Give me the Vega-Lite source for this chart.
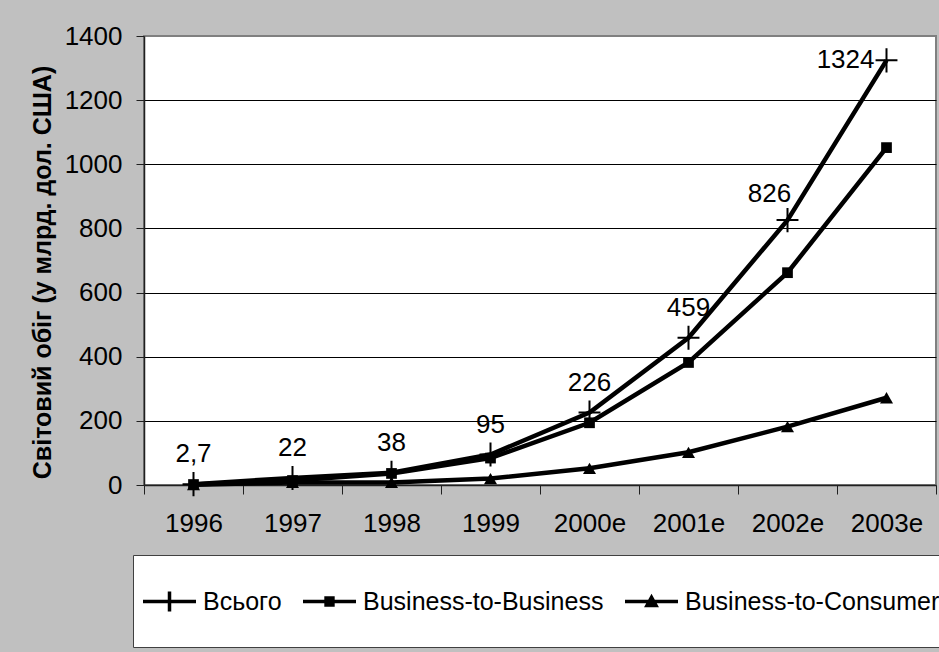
{
  "$schema": "https://vega.github.io/schema/vega-lite/v6.json",
  "width": 792,
  "height": 449,
  "autosize": "none",
  "padding": {"left": 144, "top": 36, "right": 3, "bottom": 167},
  "background": "#c0c0c0",
  "config": {
    "font": "Liberation Sans",
    "view": {"fill": "white", "stroke": "#808080", "strokeWidth": 2}
  },
  "data": {
    "values": [
      {"year": "1996", "series": "Всього", "value": 2.7, "label": "2,7"},
      {"year": "1997", "series": "Всього", "value": 22, "label": "22"},
      {"year": "1998", "series": "Всього", "value": 38, "label": "38"},
      {"year": "1999", "series": "Всього", "value": 95, "label": "95"},
      {"year": "2000e", "series": "Всього", "value": 226, "label": "226"},
      {"year": "2001e", "series": "Всього", "value": 459, "label": "459"},
      {"year": "2002e", "series": "Всього", "value": 826, "label": "826"},
      {"year": "2003e", "series": "Всього", "value": 1324, "label": "1324"},
      {"year": "1996", "series": "Business-to-Business", "value": 1.5, "label": ""},
      {"year": "1997", "series": "Business-to-Business", "value": 14, "label": ""},
      {"year": "1998", "series": "Business-to-Business", "value": 36, "label": ""},
      {"year": "1999", "series": "Business-to-Business", "value": 84, "label": ""},
      {"year": "2000e", "series": "Business-to-Business", "value": 194, "label": ""},
      {"year": "2001e", "series": "Business-to-Business", "value": 382, "label": ""},
      {"year": "2002e", "series": "Business-to-Business", "value": 662, "label": ""},
      {"year": "2003e", "series": "Business-to-Business", "value": 1052, "label": ""},
      {"year": "1996", "series": "Business-to-Consumer", "value": 1, "label": ""},
      {"year": "1997", "series": "Business-to-Consumer", "value": 8, "label": ""},
      {"year": "1998", "series": "Business-to-Consumer", "value": 8, "label": ""},
      {"year": "1999", "series": "Business-to-Consumer", "value": 20, "label": ""},
      {"year": "2000e", "series": "Business-to-Consumer", "value": 52, "label": ""},
      {"year": "2001e", "series": "Business-to-Consumer", "value": 102, "label": ""},
      {"year": "2002e", "series": "Business-to-Consumer", "value": 182, "label": ""},
      {"year": "2003e", "series": "Business-to-Consumer", "value": 272, "label": ""}
    ]
  },
  "encoding": {
    "x": {
      "field": "year",
      "type": "ordinal",
      "sort": null,
      "scale": {"type": "band", "paddingInner": 0, "paddingOuter": 0},
      "axis": {
        "title": null,
        "labelAngle": 0,
        "labelFontSize": 26,
        "labelColor": "black",
        "labelPadding": 16,
        "tickBand": "extent",
        "tickSize": 9,
        "tickColor": "#202020",
        "domainColor": "#202020",
        "domainWidth": 1.5,
        "grid": false
      }
    },
    "y": {
      "field": "value",
      "type": "quantitative",
      "scale": {"domain": [0, 1400], "nice": false},
      "axis": {
        "values": [0, 200, 400, 600, 800, 1000, 1200, 1400],
        "format": "d",
        "title": "Світовий обіг (у млрд. дол. США)",
        "titleFontSize": 25,
        "titleFontWeight": "bold",
        "titleColor": "black",
        "titleAngle": -90,
        "titleX": -102,
        "titleY": 236,
        "titleAlign": "center",
        "titleBaseline": "middle",
        "labelFontSize": 26,
        "labelColor": "black",
        "labelPadding": 14,
        "tickSize": 8,
        "tickColor": "#202020",
        "domainColor": "#202020",
        "domainWidth": 1.5,
        "grid": true,
        "gridColor": "black",
        "gridWidth": 1,
        "gridOpacity": {"condition": {"test": "datum.value === 1400 || datum.value === 0", "value": 0}, "value": 1}
      }
    }
  },
  "layer": [
    {
      "mark": {"type": "line", "color": "black", "strokeWidth": 4.5},
      "encoding": {"detail": {"field": "series"}}
    },
    {
      "transform": [{"filter": "datum.series === 'Всього'"}],
      "mark": {"type": "point", "shape": "M-1,0H1M0,-1.1V1.1", "filled": false, "stroke": "black", "strokeWidth": 2, "size": 480, "opacity": 1}
    },
    {
      "transform": [{"filter": "datum.series === 'Business-to-Business'"}],
      "mark": {"type": "point", "shape": "square", "filled": true, "color": "black", "size": 115, "opacity": 1}
    },
    {
      "transform": [{"filter": "datum.series === 'Business-to-Consumer'"}],
      "mark": {"type": "point", "shape": "triangle-up", "filled": true, "color": "black", "size": 170, "opacity": 1}
    },
    {
      "mark": {"type": "point", "filled": false, "color": "black", "stroke": "black", "strokeWidth": 3.5, "opacity": 0},
      "encoding": {
        "shape": {
          "field": "series",
          "type": "nominal",
          "scale": {
            "domain": ["Всього", "Business-to-Business", "Business-to-Consumer"],
            "range": [
              "M0,-1.95M0,1.15M-1,0L1,0M0,-0.38L0,0.38",
              "M0,-1.95M0,1.15M-1,0L1,0M-0.13,-0.13L0.13,-0.13L0.13,0.13L-0.13,0.13ZM-0.04,-0.04L0.04,-0.04L0.04,0.04L-0.04,0.04Z",
              "M0,-1.95M0,1.15M-1,0L1,0M0,-0.16L0.17,0.15L-0.17,0.15ZM0,0.02L0.05,0.11L-0.05,0.11Z"
            ]
          },
          "legend": {
            "orient": "none",
            "legendX": -11,
            "legendY": 519,
            "direction": "horizontal",
            "columns": 3,
            "title": " ",
            "titleFontSize": 2,
            "titlePadding": 8,
            "fillColor": "white",
            "strokeColor": "#404040",
            "padding": 8,
            "symbolSize": 2809,
            "symbolStrokeColor": "black",
            "symbolStrokeWidth": 3.5,
            "symbolOpacity": 1,
            "labelFontSize": 25,
            "labelColor": "black",
            "labelOffset": 5,
            "labelLimit": 0,
            "columnPadding": 14
          }
        }
      }
    },
    {
      "transform": [{"filter": "datum.series === 'Всього' && datum.year !== '2002e' && datum.year !== '2003e'"}],
      "mark": {"type": "text", "fontSize": 26, "color": "black", "baseline": "alphabetic", "align": "center", "dy": -22},
      "encoding": {"text": {"field": "label"}}
    },
    {
      "transform": [{"filter": "datum.series === 'Всього' && datum.year === '2002e'"}],
      "mark": {"type": "text", "fontSize": 26, "color": "black", "baseline": "alphabetic", "align": "center", "dy": -18, "dx": -18},
      "encoding": {"text": {"field": "label"}}
    },
    {
      "transform": [{"filter": "datum.series === 'Всього' && datum.year === '2003e'"}],
      "mark": {"type": "text", "fontSize": 26, "color": "black", "baseline": "middle", "align": "right", "dx": -12},
      "encoding": {"text": {"field": "label"}}
    }
  ]
}
